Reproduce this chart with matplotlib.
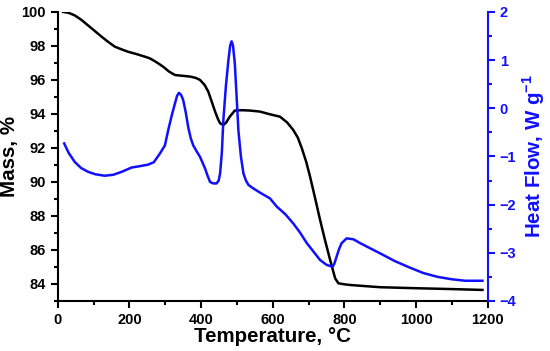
import matplotlib
matplotlib.use("Agg")
import matplotlib.pyplot as plt
from matplotlib.ticker import MultipleLocator

plt.rcParams["font.family"] = ["Liberation Sans", "DejaVu Sans"]
plt.rcParams["font.weight"] = "bold"
plt.rcParams["mathtext.fontset"] = "custom"
plt.rcParams["mathtext.rm"] = "Liberation Sans:bold"
plt.rcParams["mathtext.bf"] = "Liberation Sans:bold"

BLUE = "#1010ff"

# TGA curve (mass, %)
tga_temp = [15, 30, 47, 65, 85, 105, 122, 140, 159, 178, 196, 220, 243, 257, 275, 294,
            310, 327, 350, 369, 385, 397, 410, 420, 430, 439, 447, 453, 462, 470,
            480, 494, 515, 536, 564, 592, 620, 640, 657, 670, 681, 693, 704, 718,
            732, 746, 760, 774, 783, 800, 816, 899, 1000, 1100, 1185]
tga_mass = [100, 99.95, 99.8, 99.55, 99.2, 98.85, 98.55, 98.25, 97.96, 97.8, 97.66,
            97.52, 97.37, 97.27, 97.05, 96.78, 96.5, 96.29, 96.24, 96.2, 96.12, 96.0,
            95.7, 95.31, 94.7, 94.14, 93.7, 93.45, 93.35, 93.5, 93.84, 94.2, 94.22,
            94.2, 94.14, 93.98, 93.84, 93.5, 93.06, 92.6, 91.98, 91.2, 90.31, 89.05,
            87.76, 86.55, 85.41, 84.33, 84.04, 83.98, 83.94, 83.81, 83.75, 83.7,
            83.65]

# DSC curve (heat flow, W/g)
dsc_temp = [18, 30, 47, 65, 85, 105, 131, 155, 178, 206, 230, 252, 268, 285, 299,
            308, 318, 327, 333, 338, 344, 350, 357, 364, 371, 378, 388, 397, 411,
            418, 425, 434, 443, 449, 453, 458, 462, 469, 476, 481, 485, 489, 494,
            499, 504, 511, 518, 525, 532, 545, 564, 592, 611, 635, 657, 676, 695,
            714, 732, 750, 767, 772, 778, 785, 792, 806, 825, 844, 870, 899, 940,
            980, 1020, 1060, 1100, 1137, 1185]
dsc_flow = [-0.73, -0.92, -1.11, -1.24, -1.32, -1.37, -1.40, -1.38, -1.32, -1.23, -1.2,
            -1.17, -1.12, -0.94, -0.77, -0.46, -0.15, 0.10, 0.26, 0.32, 0.28, 0.17,
            -0.08, -0.39, -0.62, -0.77, -0.9, -1.01, -1.25, -1.4, -1.53, -1.56,
            -1.56, -1.5, -1.35, -0.9, -0.25, 0.45, 0.99, 1.3, 1.39, 1.3, 0.93, 0.25,
            -0.46, -1.0, -1.35, -1.5, -1.59, -1.66, -1.75, -1.87, -2.04, -2.2, -2.39,
            -2.58, -2.8, -2.98, -3.15, -3.25, -3.29, -3.22, -3.08, -2.92, -2.8,
            -2.70, -2.72, -2.80, -2.9, -3.01, -3.17, -3.3, -3.42, -3.5, -3.55, -3.58,
            -3.58]

fig = plt.figure(figsize=(5.5, 3.51), dpi=100)
ax = fig.add_axes([0.105, 0.1425, 0.782, 0.8235])
ax2 = ax.twinx()

ax.plot(tga_temp, tga_mass, color="black", lw=1.8, zorder=3)
ax2.plot(dsc_temp, dsc_flow, color=BLUE, lw=1.8)

ax.set_xlim(0, 1200)
ax.set_ylim(83, 100)
ax2.set_ylim(-4, 2)

ax.xaxis.set_major_locator(MultipleLocator(200))
ax.xaxis.set_minor_locator(MultipleLocator(100))
ax.yaxis.set_major_locator(MultipleLocator(2))
ax.yaxis.set_minor_locator(MultipleLocator(1))
ax2.yaxis.set_major_locator(MultipleLocator(1))
ax2.yaxis.set_minor_locator(MultipleLocator(0.5))
ax.set_yticks([84, 86, 88, 90, 92, 94, 96, 98, 100])

for a in (ax, ax2):
    a.spines["top"].set_visible(False)
    for s in a.spines.values():
        s.set_linewidth(1.5)
ax2.spines["left"].set_visible(False)
ax2.spines["bottom"].set_visible(False)
ax.spines["right"].set_visible(False)
ax2.spines["right"].set_color(BLUE)

ax.tick_params(which="major", direction="out", length=5, width=1.5, labelsize=10.5)
ax.tick_params(which="minor", direction="out", length=3, width=1.5)
ax2.tick_params(which="major", direction="out", length=5, width=1.5, labelsize=10.5,
                colors=BLUE)
ax2.tick_params(which="minor", direction="out", length=3, width=1.5, colors=BLUE)

ax.set_xlabel("Temperature, °C", fontsize=14.8, fontweight="bold", labelpad=0)
ax.set_ylabel("Mass, %", fontsize=14.8, fontweight="bold", labelpad=2)
ax2.set_ylabel(r"Heat Flow, W g$^{-1}$", fontsize=14.8, fontweight="bold",
               color=BLUE, labelpad=3)

fig.savefig("out.png", dpi=100)
